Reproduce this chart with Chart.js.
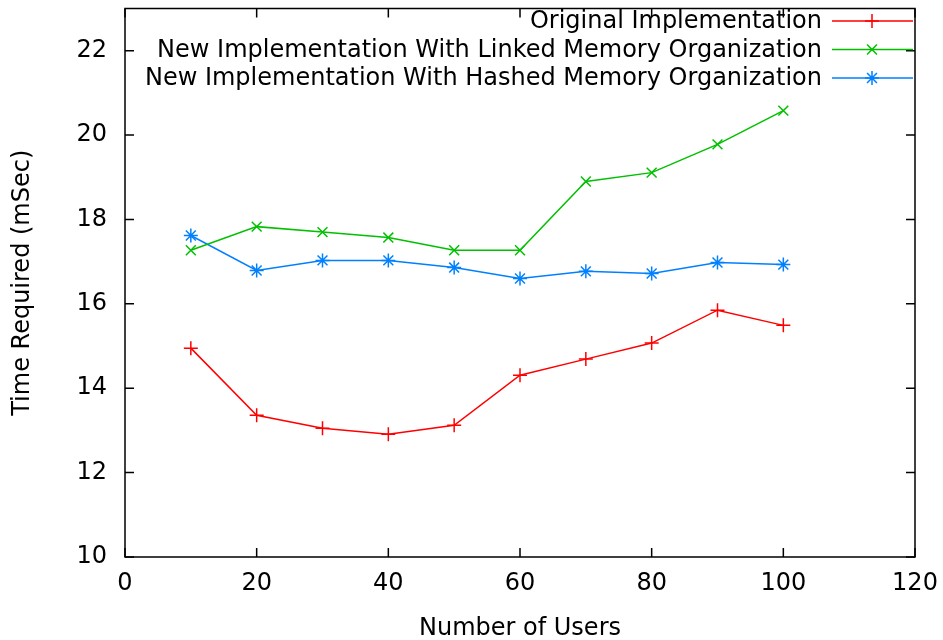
<!DOCTYPE html>
<html>
<head>
<meta charset="utf-8">
<script src="https://cdn.jsdelivr.net/npm/chart.js@4.4.0/dist/chart.umd.min.js"></script>
<style>
  html, body { margin: 0; padding: 0; background: #fff; }
  #wrap { width: 943px; height: 640px; }
</style>
</head>
<body>
<div id="wrap"><canvas id="grafico" width="943" height="640"></canvas></div>
<script>
// Dados
const usuarios = [10, 20, 30, 40, 50, 60, 70, 80, 90, 100];
const original = [14.95, 13.36, 13.05, 12.91, 13.12, 14.31, 14.69, 15.07, 15.85, 15.49];
const ligada = [17.27, 17.83, 17.70, 17.57, 17.27, 17.27, 18.90, 19.11, 19.78, 20.58];
const hash = [17.62, 16.79, 17.03, 17.03, 16.86, 16.60, 16.77, 16.72, 16.98, 16.93];
const rotulos = [
    'Original Implementation',
    'New Implementation With Linked Memory Organization',
    'New Implementation With Hashed Memory Organization'
];
const xTicks = [0, 20, 40, 60, 80, 100, 120];
const yTicks = [10, 12, 14, 16, 18, 20, 22];

const fonte = 'DejaVu Sans';
const tamFonte = 24;

function pontos(valores) {
    return usuarios.map((u, i) => ({ x: u, y: valores[i] }));
}

function serie(label, valores, cor, estilo) {
    return {
        label: label,
        data: pontos(valores),
        borderColor: cor,
        backgroundColor: cor,
        borderWidth: 1.5,
        pointStyle: estilo,
        pointRadius: 7,
        pointBorderWidth: 1.5,
        tension: 0
    };
}

// Moldura, marcas internas e legenda no estilo gnuplot
const molduraPlugin = {
    id: 'moldura',
    afterDraw(chart) {
        const ctx = chart.ctx;
        const a = chart.chartArea;
        const sx = chart.scales.x;
        const sy = chart.scales.y;
        ctx.save();
        ctx.strokeStyle = '#000';
        ctx.lineWidth = 1.5;
        ctx.strokeRect(a.left, a.top, a.right - a.left, a.bottom - a.top);
        const tam = 9;
        ctx.beginPath();
        xTicks.forEach(v => {
            const px = sx.getPixelForValue(v);
            ctx.moveTo(px, a.bottom); ctx.lineTo(px, a.bottom - tam);
            ctx.moveTo(px, a.top); ctx.lineTo(px, a.top + tam);
        });
        yTicks.forEach(v => {
            const py = sy.getPixelForValue(v);
            ctx.moveTo(a.left, py); ctx.lineTo(a.left + tam, py);
            ctx.moveTo(a.right, py); ctx.lineTo(a.right - tam, py);
        });
        ctx.stroke();

        // legenda
        ctx.font = tamFonte + 'px "' + fonte + '"';
        ctx.textAlign = 'right';
        ctx.textBaseline = 'middle';
        chart.data.datasets.forEach((ds, i) => {
            const y = 21 + i * 28.5;
            ctx.fillStyle = '#000';
            ctx.fillText(ds.label, 822, y + 1);
            ctx.strokeStyle = ds.borderColor;
            ctx.lineWidth = 1.5;
            ctx.beginPath();
            ctx.moveTo(832, y); ctx.lineTo(913, y);
            ctx.stroke();
            Chart.helpers.drawPoint(ctx, {
                pointStyle: ds.pointStyle,
                radius: 7,
                borderWidth: 1.5
            }, 872, y);
        });
        ctx.restore();
    }
};

const ctxGrafico = document.getElementById('grafico').getContext('2d');
new Chart(ctxGrafico, {
    type: 'line',
    data: {
        datasets: [
            serie(rotulos[0], original, '#ff0000', 'cross'),
            serie(rotulos[1], ligada, '#00c000', 'crossRot'),
            serie(rotulos[2], hash, '#0080ff', 'star')
        ]
    },
    options: {
        responsive: false,
        animation: false,
        layout: { padding: { left: 0, right: 28, top: 8, bottom: 0 } },
        plugins: {
            legend: { display: false },
            tooltip: { enabled: false }
        },
        scales: {
            x: {
                type: 'linear',
                min: 0,
                max: 120,
                afterBuildTicks: s => { s.ticks = xTicks.map(v => ({ value: v })); },
                afterFit: s => { s.height = 83; s.paddingLeft = 0; s.paddingRight = 0; },
                grid: { display: false, drawTicks: false },
                border: { display: false },
                ticks: { color: '#000', padding: 12, font: { family: fonte, size: tamFonte } },
                title: {
                    display: true,
                    text: 'Number of Users',
                    color: '#000',
                    padding: { top: 0, bottom: -3 },
                    font: { family: fonte, size: tamFonte }
                }
            },
            y: {
                min: 10,
                max: 23,
                afterBuildTicks: s => { s.ticks = yTicks.map(v => ({ value: v })); },
                afterFit: s => { s.width = 125; s.paddingTop = 0; s.paddingBottom = 0; },
                grid: { display: false, drawTicks: false },
                border: { display: false },
                ticks: { color: '#000', padding: 18, font: { family: fonte, size: tamFonte } },
                title: {
                    display: true,
                    text: 'Time Required (mSec)',
                    color: '#000',
                    padding: { top: 8, bottom: 0 },
                    font: { family: fonte, size: tamFonte }
                }
            }
        }
    },
    plugins: [molduraPlugin]
});
</script>
</body>
</html>
